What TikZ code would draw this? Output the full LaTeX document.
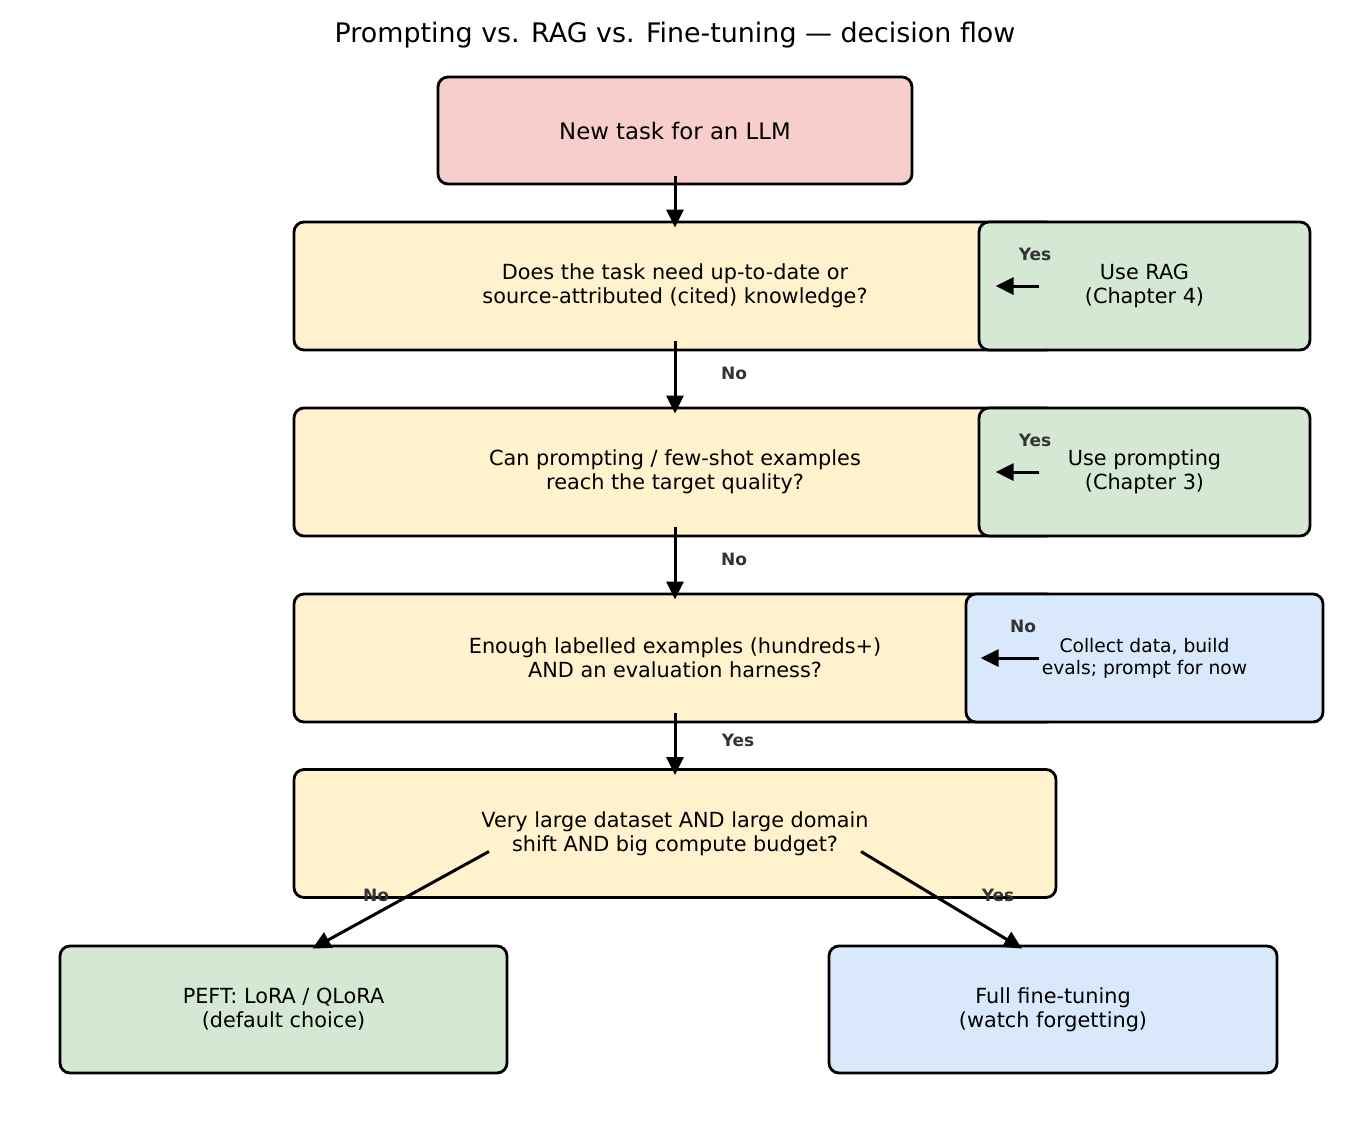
\documentclass[tikz,border=0pt]{standalone}
\usepackage{fontspec}
\setmainfont{DejaVu Sans}
\usetikzlibrary{arrows.meta,positioning}
\definecolor{pinkfill}{HTML}{F8CECC}
\definecolor{yellowfill}{HTML}{FFF2CC}
\definecolor{greenfill}{HTML}{D5E8D4}
\definecolor{bluefill}{HTML}{DAE8FC}
\definecolor{labelgray}{HTML}{333333}
\tikzset{
  box/.style={draw=black, line width=2.8pt, rounded corners=10pt, align=center, inner sep=0pt},
  qbox/.style={box, fill=yellowfill, minimum width=762pt, minimum height=128pt,
    font=\fontsize{20.8}{24}\selectfont},
  gbox/.style={box, fill=greenfill, minimum width=331pt, minimum height=128pt,
    font=\fontsize{20.8}{24}\selectfont},
  arr/.style={line width=3pt, -{Triangle[length=18pt,width=17pt]}},
  lab/.style={text=labelgray, font=\fontsize{17}{20}\selectfont\bfseries, inner sep=0pt},
}
\begin{document}
\begin{tikzpicture}[x=1pt,y=-1pt]
\useasboundingbox (0,0) rectangle (1350,1125);
\node[font=\fontsize{26.9}{30}\selectfont, inner sep=0pt] (title) at (675,35) {Prompting vs. RAG vs. Fine-tuning — decision flow};

\node[box, fill=pinkfill, minimum width=474pt, minimum height=107pt, font=\fontsize{22.8}{26}\selectfont] (start) at (675,130.5) {New task for an LLM};

\node[qbox] (q1) at (675,286) {Does the task need up-to-date or\\source-attributed (cited) knowledge?};
\node[qbox] (q2) at (675,472) {Can prompting / few-shot examples\\reach the target quality?};
\node[qbox] (q3) at (675,658) {Enough labelled examples (hundreds+)\\AND an evaluation harness?};
\node[qbox] (q4) at (675,833.5) {Very large dataset AND large domain\\shift AND big compute budget?};

\node[gbox] (rag) at (1144.5,286) {Use RAG\\(Chapter 4)};
\node[gbox] (prm) at (1144.5,472) {Use prompting\\(Chapter 3)};
\node[gbox, fill=bluefill, minimum width=357pt, font=\fontsize{18.7}{22}\selectfont] (col) at (1144.5,658) {Collect data, build\\evals; prompt for now};

\node[gbox, minimum width=447pt, minimum height=127pt] (peft) at (283.5,1009.5) {PEFT: LoRA / QLoRA\\(default choice)};
\node[gbox, fill=bluefill, minimum width=448pt, minimum height=127pt] (full) at (1053,1009.5) {Full fine-tuning\\(watch forgetting)};

% vertical flow
\draw[arr] ([yshift=9pt]start.south) -- ([yshift=-7pt]q1.north);
\draw[arr] ([yshift=10pt]q1.south) -- ([yshift=-7pt]q2.north);
\draw[arr] ([yshift=10pt]q2.south) -- ([yshift=-7pt]q3.north);
\draw[arr] ([yshift=10pt]q3.south) -- ([yshift=-7pt]q4.north);
\node[lab] (n1) at (734,373) {No};
\node[lab] (n2) at (734,559) {No};
\node[lab] (y3) at (738,740) {Yes};

% side arrows
\draw[arr] ([xshift=-18pt]q1.east) -- ([xshift=18pt]rag.west);
\draw[arr] ([xshift=-18pt]q2.east) -- ([xshift=18pt]prm.west);
\draw[arr] ([xshift=-18pt]q3.east) -- ([xshift=16pt]col.west);
\node[lab] (y1) at (1035,254) {Yes};
\node[lab] (y2) at (1035,440) {Yes};
\node[lab] (n3) at (1023,626) {No};

% diagonal
\draw[arr] ([xshift=-186pt,yshift=-18pt]q4.center) -- ([xshift=29pt,yshift=-4pt]peft.north);
\draw[arr] ([xshift=186pt,yshift=-18pt]q4.center) -- ([xshift=-31pt,yshift=-4pt]full.north);
\node[lab] (n4) at (376,895) {No};
\node[lab] (y4) at (998,895) {Yes};
\end{tikzpicture}
\end{document}
